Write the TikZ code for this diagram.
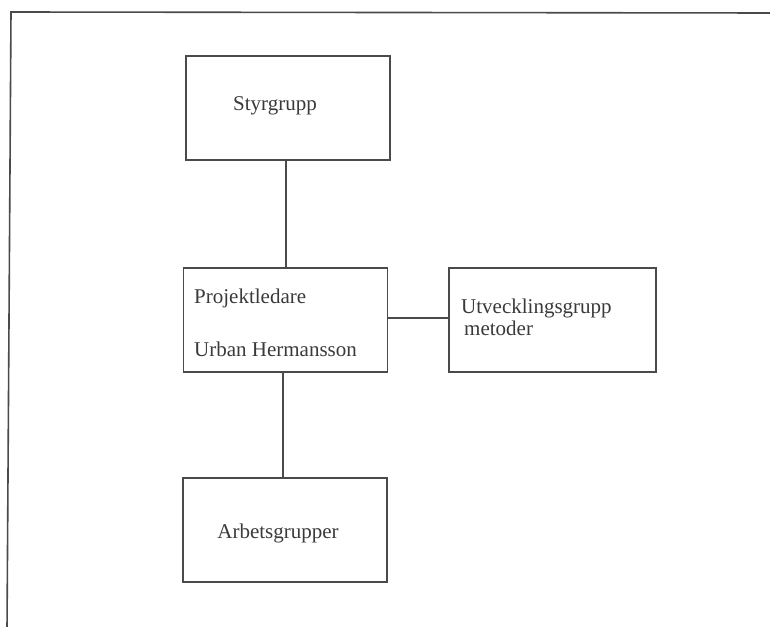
\documentclass[tikz,border=0pt]{standalone}
\usepackage{fontspec}
\setmainfont{Liberation Serif}
\definecolor{ink}{HTML}{4A4A4A}
\definecolor{txt}{HTML}{3A3A3A}
\begin{document}
\begin{tikzpicture}[x=1pt,y=-1pt,
  orgbox/.style={draw=ink,line width=1.6pt,minimum width=#1,minimum height=104pt,inner sep=0pt},
  orgbox/.default=204pt,
  label/.style={text=txt,font=\fontsize{21}{25}\selectfont,inner sep=0pt,anchor=west},
  link/.style={draw=ink,line width=1.4pt}]
\useasboundingbox (0,0) rectangle (770,626);
\fill[white] (0,0) rectangle (770,626);
% outer frame (open to the right and bottom)
\draw[ink,line width=1.6pt] (7,630) -- (11,12) -- (775,13);
% boxes
\node[orgbox] (sty) at (288,108) {};
\node[orgbox] (pro) at (285.5,320) {};
\node[orgbox=207pt] (utv) at (552.5,320) {};
\node[orgbox] (arb) at (285,530) {};
% texts
\node[label] at (233,106) {Styrgrupp};
\node[label] at (194,298) {Projektledare};
\node[label] at (194,349) {Urban Hermansson};
\node[label] at (461,308) {Utvecklingsgrupp};
\node[label] at (464,328) {metoder};
\node[label,anchor=center] at (278,533) {Arbetsgrupper};
% connectors
\draw[link] (sty.south -| 286,0) -- (pro.north -| 286,0);
\draw[link] (pro.south -| 283,0) -- (arb.north -| 283,0);
\draw[link] (pro.east |- 0,318) -- (utv.west |- 0,318);
\end{tikzpicture}
\end{document}
